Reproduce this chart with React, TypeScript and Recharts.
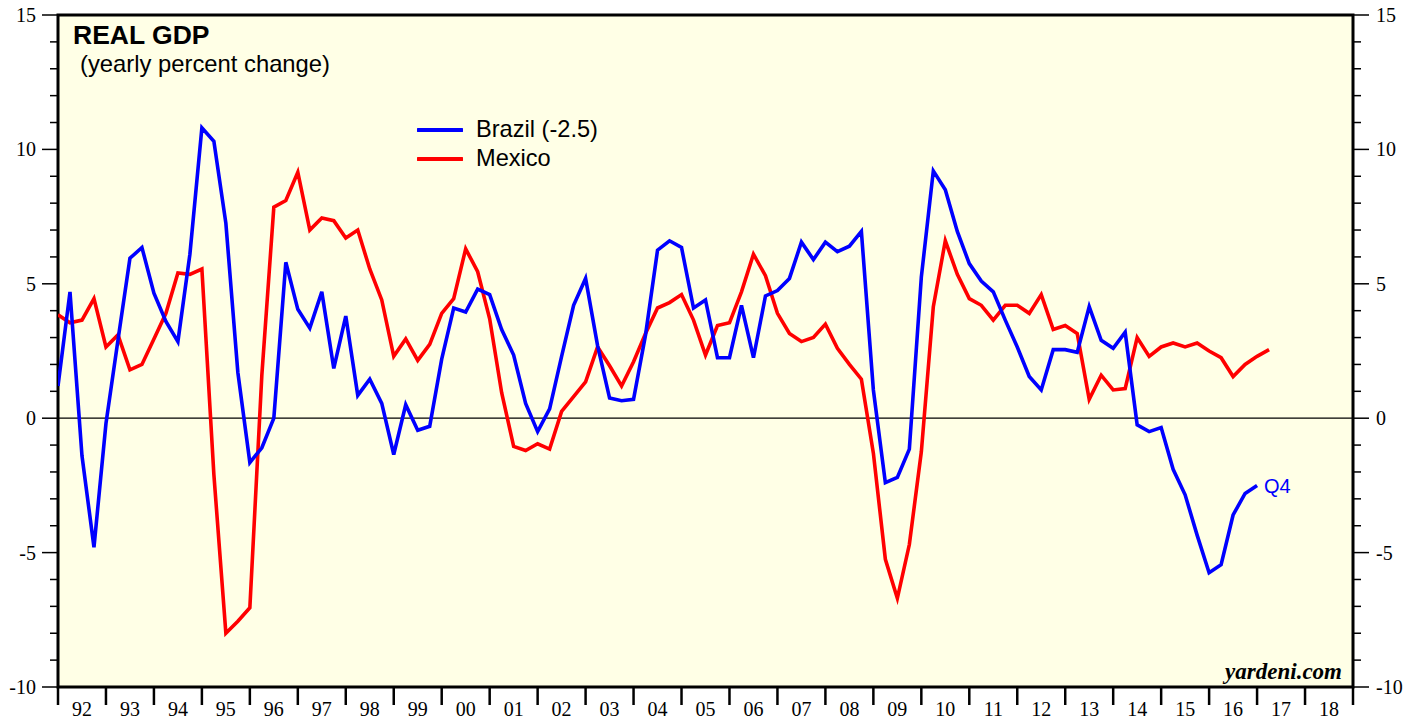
import {
  CartesianGrid,
  Legend,
  Line,
  LineChart,
  ReferenceArea,
  ReferenceLine,
  XAxis,
  YAxis,
} from "recharts";

// quarterly, first point sits on the 1992 boundary, one step = one quarter
const START_YEAR = 1992;
const END_YEAR = 2019;

// Brazil real GDP, y/y % (series shifted -2.5 in legend label)
const BRAZIL = [
  1.2, 4.7, -1.4, -4.8, -0.2, 2.9, 5.95, 6.35, 4.65, 3.6, 2.85, 6.1, 10.8, 10.3, 7.25, 1.7,
  -1.65, -1.1, 0.0, 5.8, 4.05, 3.35, 4.7, 1.85, 3.8, 0.85, 1.45, 0.55, -1.35, 0.5, -0.45, -0.3,
  2.2, 4.1, 3.95, 4.8, 4.6, 3.3, 2.35, 0.55, -0.5, 0.35, 2.3, 4.2, 5.2, 2.7, 0.75, 0.65,
  0.7, 3.1, 6.25, 6.6, 6.35, 4.1, 4.4, 2.25, 2.25, 4.2, 2.25, 4.55, 4.75, 5.2, 6.55, 5.9,
  6.55, 6.2, 6.4, 6.95, 1.05, -2.4, -2.2, -1.15, 5.25, 9.2, 8.5, 6.95, 5.75, 5.1, 4.7, 3.65,
  2.65, 1.55, 1.05, 2.55, 2.55, 2.45, 4.15, 2.9, 2.6, 3.2, -0.25, -0.5, -0.35, -1.9, -2.85, -4.35,
  -5.75, -5.45, -3.6, -2.8, -2.5,
];

const MEXICO = [
  3.85, 3.55, 3.65, 4.45, 2.65, 3.1, 1.8, 2.0, 2.95, 3.9, 5.4, 5.35, 5.55, -2.1, -8.0, -7.55,
  -7.05, 1.6, 7.85, 8.1, 9.15, 7.0, 7.45, 7.35, 6.7, 7.0, 5.55, 4.4, 2.3, 2.95, 2.15, 2.75,
  3.9, 4.45, 6.3, 5.45, 3.7, 0.95, -1.05, -1.2, -0.95, -1.15, 0.25, 0.8, 1.35, 2.65, 1.95, 1.2,
  2.1, 3.15, 4.1, 4.3, 4.6, 3.65, 2.35, 3.45, 3.55, 4.7, 6.1, 5.3, 3.9, 3.15, 2.85, 3.0,
  3.5, 2.6, 2.0, 1.45, -1.3, -5.25, -6.7, -4.7, -1.25, 4.15, 6.6, 5.35, 4.45, 4.2, 3.65, 4.2,
  4.2, 3.9, 4.6, 3.3, 3.45, 3.15, 0.7, 1.6, 1.05, 1.1, 3.0, 2.3, 2.65, 2.8, 2.65, 2.8,
  2.5, 2.25, 1.55, 2.0, 2.3, 2.55,
];

const YEAR_TICKS = Array.from({ length: END_YEAR - START_YEAR + 1 }, (_, i) => START_YEAR + i);
const Y_TICKS = Array.from({ length: 26 }, (_, i) => i - 10);

const W = 1421;
const H = 721;
const PLOT_LEFT = 58;
const PLOT_RIGHT = 1353;
const PLOT_TOP = 15;
const PLOT_BOTTOM = 687;
const YEAR_PX = (PLOT_RIGHT - PLOT_LEFT) / (END_YEAR - START_YEAR);

const data = MEXICO.map((m, i) => ({
  x: START_YEAR + i * 0.25,
  brazil: i < BRAZIL.length ? BRAZIL[i] : null,
  mexico: m,
}));

const serif = "'Liberation Serif', 'Times New Roman', serif";
const sans = "'Liberation Sans', Arial, Helvetica, sans-serif";

function YearTick({ x, payload }: any) {
  const year = payload.value as number;
  return (
    <g>
      <line x1={x} x2={x} y1={PLOT_BOTTOM} y2={PLOT_BOTTOM + 18} stroke="#000" strokeWidth={2.5} />
      {year < END_YEAR && (
        <text x={x + YEAR_PX / 2} y={716} textAnchor="middle" fontFamily={serif} fontSize={20} fill="#000">
          {String(year % 100).padStart(2, "0")}
        </text>
      )}
    </g>
  );
}

function LeftTick({ y, payload }: any) {
  const v = payload.value as number;
  const major = v % 5 === 0;
  return (
    <g>
      <line x1={PLOT_LEFT - (major ? 16 : 8)} x2={PLOT_LEFT} y1={y} y2={y} stroke="#000" strokeWidth={1.5} />
      {major && (
        <text x={36} y={y + 7} textAnchor="end" fontFamily={serif} fontSize={20} fill="#000">
          {v}
        </text>
      )}
    </g>
  );
}

function RightTick({ y, payload }: any) {
  const v = payload.value as number;
  const major = v % 5 === 0;
  return (
    <g>
      <line x1={PLOT_RIGHT} x2={PLOT_RIGHT + (major ? 16 : 8)} y1={y} y2={y} stroke="#000" strokeWidth={1.5} />
      {major && (
        <text x={1376} y={y + 7} textAnchor="start" fontFamily={serif} fontSize={20} fill="#000">
          {v}
        </text>
      )}
    </g>
  );
}

function renderQ4(props: any) {
  if (props.index !== BRAZIL.length - 1) return null;
  return (
    <text x={props.x + 7} y={props.y + 8} fontFamily={sans} fontSize={20} fill="#0000ff">
      Q4
    </text>
  );
}

const LEGEND_ITEMS = [
  { label: "Brazil (-2.5)", color: "#0000ff" },
  { label: "Mexico", color: "#ff0000" },
];

function LegendBox() {
  return (
    <div>
      {LEGEND_ITEMS.map((item) => (
        <div key={item.label} style={{ display: "flex", alignItems: "center", height: 29 }}>
          <svg width={46} height={6} style={{ marginRight: 13 }}>
            <line x1={1} x2={45} y1={3} y2={3} stroke={item.color} strokeWidth={4} strokeLinecap="round" />
          </svg>
          <span style={{ fontFamily: sans, fontSize: 23.6, color: "#000", lineHeight: "29px" }}>{item.label}</span>
        </div>
      ))}
    </div>
  );
}

export default function App() {
  return (
    <div style={{ position: "absolute", left: 0, top: 0, width: W, height: H, background: "#fff" }}>
      <LineChart
        width={W}
        height={H}
        data={data}
        margin={{ top: PLOT_TOP, right: 0, bottom: 0, left: 0 }}
      >
        <CartesianGrid yAxisId="left" horizontal={false} vertical={false} fill="#ffffe6" fillOpacity={1} />
        <XAxis
          dataKey="x"
          type="number"
          domain={[START_YEAR, END_YEAR]}
          ticks={YEAR_TICKS}
          interval={0}
          height={H - PLOT_BOTTOM}
          axisLine={false}
          tickLine={false}
          tick={<YearTick />}
          allowDataOverflow
        />
        <YAxis
          yAxisId="left"
          domain={[-10, 15]}
          ticks={Y_TICKS}
          interval={0}
          width={PLOT_LEFT}
          axisLine={false}
          tickLine={false}
          tick={<LeftTick />}
          allowDataOverflow
        />
        <YAxis
          yAxisId="right"
          orientation="right"
          domain={[-10, 15]}
          ticks={Y_TICKS}
          interval={0}
          width={W - PLOT_RIGHT}
          axisLine={false}
          tickLine={false}
          tick={<RightTick />}
          allowDataOverflow
        />
        <ReferenceLine yAxisId="left" y={0} stroke="#000" strokeWidth={1.2} />
        <Legend
          layout="vertical"
          align="center"
          verticalAlign="middle"
          content={<LegendBox />}
          wrapperStyle={{ left: 417, top: 115, width: 260 }}
        />
        <Line
          yAxisId="left"
          type="linear"
          dataKey="mexico"
          stroke="#ff0000"
          strokeWidth={3.6}
          dot={false}
          isAnimationActive={false}
        />
        <Line
          yAxisId="left"
          type="linear"
          dataKey="brazil"
          stroke="#0000ff"
          strokeWidth={3.6}
          dot={false}
          label={renderQ4}
          isAnimationActive={false}
        />
        <ReferenceArea
          yAxisId="left"
          x1={START_YEAR}
          x2={END_YEAR}
          y1={-10}
          y2={15}
          fill="none"
          fillOpacity={0}
          stroke="#000"
          strokeWidth={3}
        />
      </LineChart>
      <svg
        width={W}
        height={H}
        style={{ position: "absolute", left: 0, top: 0, pointerEvents: "none" }}
      >
        <text x={73} y={44} fontFamily={sans} fontWeight="bold" fontSize={26.5} fill="#000">
          REAL GDP
        </text>
        <text x={80} y={72} fontFamily={sans} fontSize={23.8} fill="#000">
          (yearly percent change)
        </text>
        <text
          x={1342}
          y={679}
          textAnchor="end"
          fontFamily={serif}
          fontWeight="bold"
          fontStyle="italic"
          fontSize={23}
          fill="#000"
        >
          yardeni.com
        </text>
      </svg>
    </div>
  );
}
